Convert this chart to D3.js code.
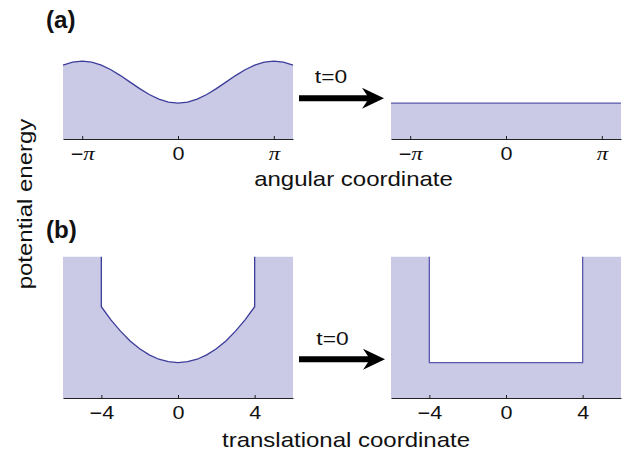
<!DOCTYPE html>
<html>
<head>
<meta charset="utf-8">
<script src="https://cdn.jsdelivr.net/npm/d3@7/dist/d3.min.js"></script>
<style>
  html, body { margin: 0; padding: 0; background: #fff; }
  svg { display: block; }
  text { font-family: "Liberation Sans", Arial, Helvetica, sans-serif; fill: #111; }
</style>
</head>
<body>
<svg id="chart" width="628" height="460"></svg>
<script>
// ---------- data ----------
// angular coordinate, in multiples of pi
const angX = [-1.2, -1.1, -1.0, -0.9, -0.8, -0.7, -0.6, -0.5, -0.4, -0.3, -0.2, -0.1, 0,
               0.1, 0.2, 0.3, 0.4, 0.5, 0.6, 0.7, 0.8, 0.9, 1.0, 1.1, 1.2];
const angV = [3.52, 3.66, 3.71, 3.66, 3.52, 3.30, 3.02, 2.71, 2.40, 2.12, 1.90, 1.76, 1.71,
              1.76, 1.90, 2.12, 2.40, 2.71, 3.02, 3.30, 3.52, 3.66, 3.71, 3.66, 3.52];
const angFlatX = [-1.2, 1.2];
const angFlatV = [1.71, 1.71];
const angTicks = [-1, 0, 1];
const angTickLabels = ["\u2212\u03c0", "0", "\u03c0"];

// translational coordinate
const transX = [-4, -3.5, -3, -2.5, -2, -1.5, -1, -0.5, 0, 0.5, 1, 1.5, 2, 2.5, 3, 3.5, 4];
const transV = [4.78, 4.09, 3.50, 2.99, 2.58, 2.26, 2.03, 1.90, 1.85, 1.90, 2.03, 2.26, 2.58, 2.99, 3.50, 4.09, 4.78];
const transWalls = [-4, 4];
const transFlatV = 1.85;
const transTicks = [-4, 0, 4];
const transTickLabels = ["\u22124", "0", "4"];

const arrowLabel = "t=0";
const panelLabels = ["(a)", "(b)"];
const axisTitles = ["angular coordinate", "translational coordinate", "potential energy"];

// ---------- styles ----------
const FILL = "#cac9e6";
const LINE_L = "#3c3c9b";
const LINE_R = "#5858ad";
const AX = "#222";
const SX = 1.2; // horizontal glyph stretch seen in the reference

const svg = d3.select("#chart");

function label(x, y, str, size, opts = {}) {
  const t = svg.append("text")
    .attr("transform", `translate(${x},${y}) ${opts.rotate ? "rotate(-90)" : ""} scale(${opts.sx || SX},1)`)
    .attr("text-anchor", opts.anchor || "middle")
    .style("font-size", size + "px")
    .text(str);
  if (opts.bold) t.style("font-weight", "bold");
  return t;
}

// ---------- scales ----------
const xL = [63, 293], xR = [391, 621];
const xAngL = d3.scaleLinear().domain([-1.2 * Math.PI, 1.2 * Math.PI]).range(xL);
const xAngR = d3.scaleLinear().domain([-1.2 * Math.PI, 1.2 * Math.PI]).range(xR);
const yAng = d3.scaleLinear().domain([0, 4]).range([139, 55]);

const xTrL = d3.scaleLinear().domain([-6, 6]).range(xL);
const xTrR = d3.scaleLinear().domain([-6, 6]).range(xR);
const yTr = d3.scaleLinear().domain([0, 7.4]).range([398, 256.7]);

// ---------- panel (a) ----------
function angPanel(xs, xsArr, vsArr, lineColor) {
  const pts = xsArr.map((d, i) => [d * Math.PI, vsArr[i]]);
  const area = d3.area().x(d => xs(d[0])).y0(yAng(0)).y1(d => yAng(d[1]));
  const line = d3.line().x(d => xs(d[0])).y(d => yAng(d[1]));
  svg.append("path").attr("d", area(pts)).attr("fill", FILL);
  svg.append("path").attr("d", line(pts)).attr("fill", "none")
    .attr("stroke", lineColor).attr("stroke-width", 1.3);
  const ax = d3.axisBottom(xs)
    .tickValues(angTicks.map(d => d * Math.PI))
    .tickSizeInner(-3).tickSizeOuter(0).tickPadding(8.5)
    .tickFormat((d, i) => angTickLabels[i]);
  const g = svg.append("g").attr("transform", `translate(0,${yAng(0)})`).call(ax);
  g.select(".domain").attr("stroke", AX).attr("stroke-width", 1.2);
  g.selectAll(".tick line").attr("stroke", AX).attr("stroke-width", 1);
  g.selectAll(".tick text").each(function (d, i) {
    const t = d3.select(this);
    const s = angTickLabels[i];
    t.text(null).attr("fill", "#111").style("font-size", "18px")
      .attr("font-family", null).attr("transform", `scale(${SX},1)`);
    for (const ch of s) {
      const sp = t.append("tspan").text(ch);
      if (ch === "\u03c0") sp.style("font-family", "'Liberation Serif', 'DejaVu Serif', serif")
        .style("font-style", "italic").style("font-size", "19px");
    }
  });
}
angPanel(xAngL, angX, angV, LINE_L);
angPanel(xAngR, angFlatX, angFlatV, LINE_R);

// ---------- panel (b) ----------
function trPanel(xs, curveX, curveV, lineColor) {
  const top = yTr.domain()[1];
  const [xmin, xmax] = xs.domain();
  const wl = transWalls[0], wr = transWalls[1];
  const curve = curveX.map((d, i) => [d, curveV[i]]);
  const linePts = [[wl, top]].concat(curve, [[wr, top]]);
  const fillPts = [[xmin, 0], [xmin, top], [wl, top]].concat(curve, [[wr, top], [xmax, top], [xmax, 0]]);
  const line = d3.line().x(d => xs(d[0])).y(d => yTr(d[1]));
  svg.append("path").attr("d", line(fillPts) + "Z").attr("fill", FILL);
  svg.append("path").attr("d", line(linePts)).attr("fill", "none")
    .attr("stroke", lineColor).attr("stroke-width", 1.3);
  const ax = d3.axisBottom(xs)
    .tickValues(transTicks)
    .tickSizeInner(-3).tickSizeOuter(0).tickPadding(8.5)
    .tickFormat((d, i) => transTickLabels[i]);
  const g = svg.append("g").attr("transform", `translate(0,${yTr(0)})`).call(ax);
  g.select(".domain").attr("stroke", AX).attr("stroke-width", 1.2);
  g.selectAll(".tick line").attr("stroke", AX).attr("stroke-width", 1);
  g.selectAll(".tick text").attr("fill", "#111").style("font-size", "18px")
    .attr("font-family", null).attr("transform", `scale(${SX},1)`);
}
trPanel(xTrL, transX, transV, LINE_L);
trPanel(xTrR, transWalls, [transFlatV, transFlatV], LINE_R);

// ---------- arrows ----------
function arrow(x0, tip, y) {
  const xb = tip - 22;
  const p = d3.path();
  p.moveTo(x0, y - 3);
  p.lineTo(xb + 5, y - 3);
  p.lineTo(xb, y - 10.5);
  p.lineTo(tip, y);
  p.lineTo(xb, y + 10.5);
  p.lineTo(xb + 5, y + 3);
  p.lineTo(x0, y + 3);
  p.closePath();
  svg.append("path").attr("d", p.toString()).attr("fill", "#000");
}
arrow(299, 384, 98.3);
arrow(299, 385, 359.3);
label(331, 83.3, arrowLabel, 19);
label(332.5, 345, arrowLabel, 19);

// ---------- titles ----------
label(353.5, 186, axisTitles[0], 20);
label(346, 447, axisTitles[1], 20);
label(32.4, 204, axisTitles[2], 20, { rotate: true });
label(46, 28.2, panelLabels[0], 23, { bold: true, anchor: "start", sx: 1.05 });
label(46, 238, panelLabels[1], 23, { bold: true, anchor: "start", sx: 1.05 });
</script>
</body>
</html>
